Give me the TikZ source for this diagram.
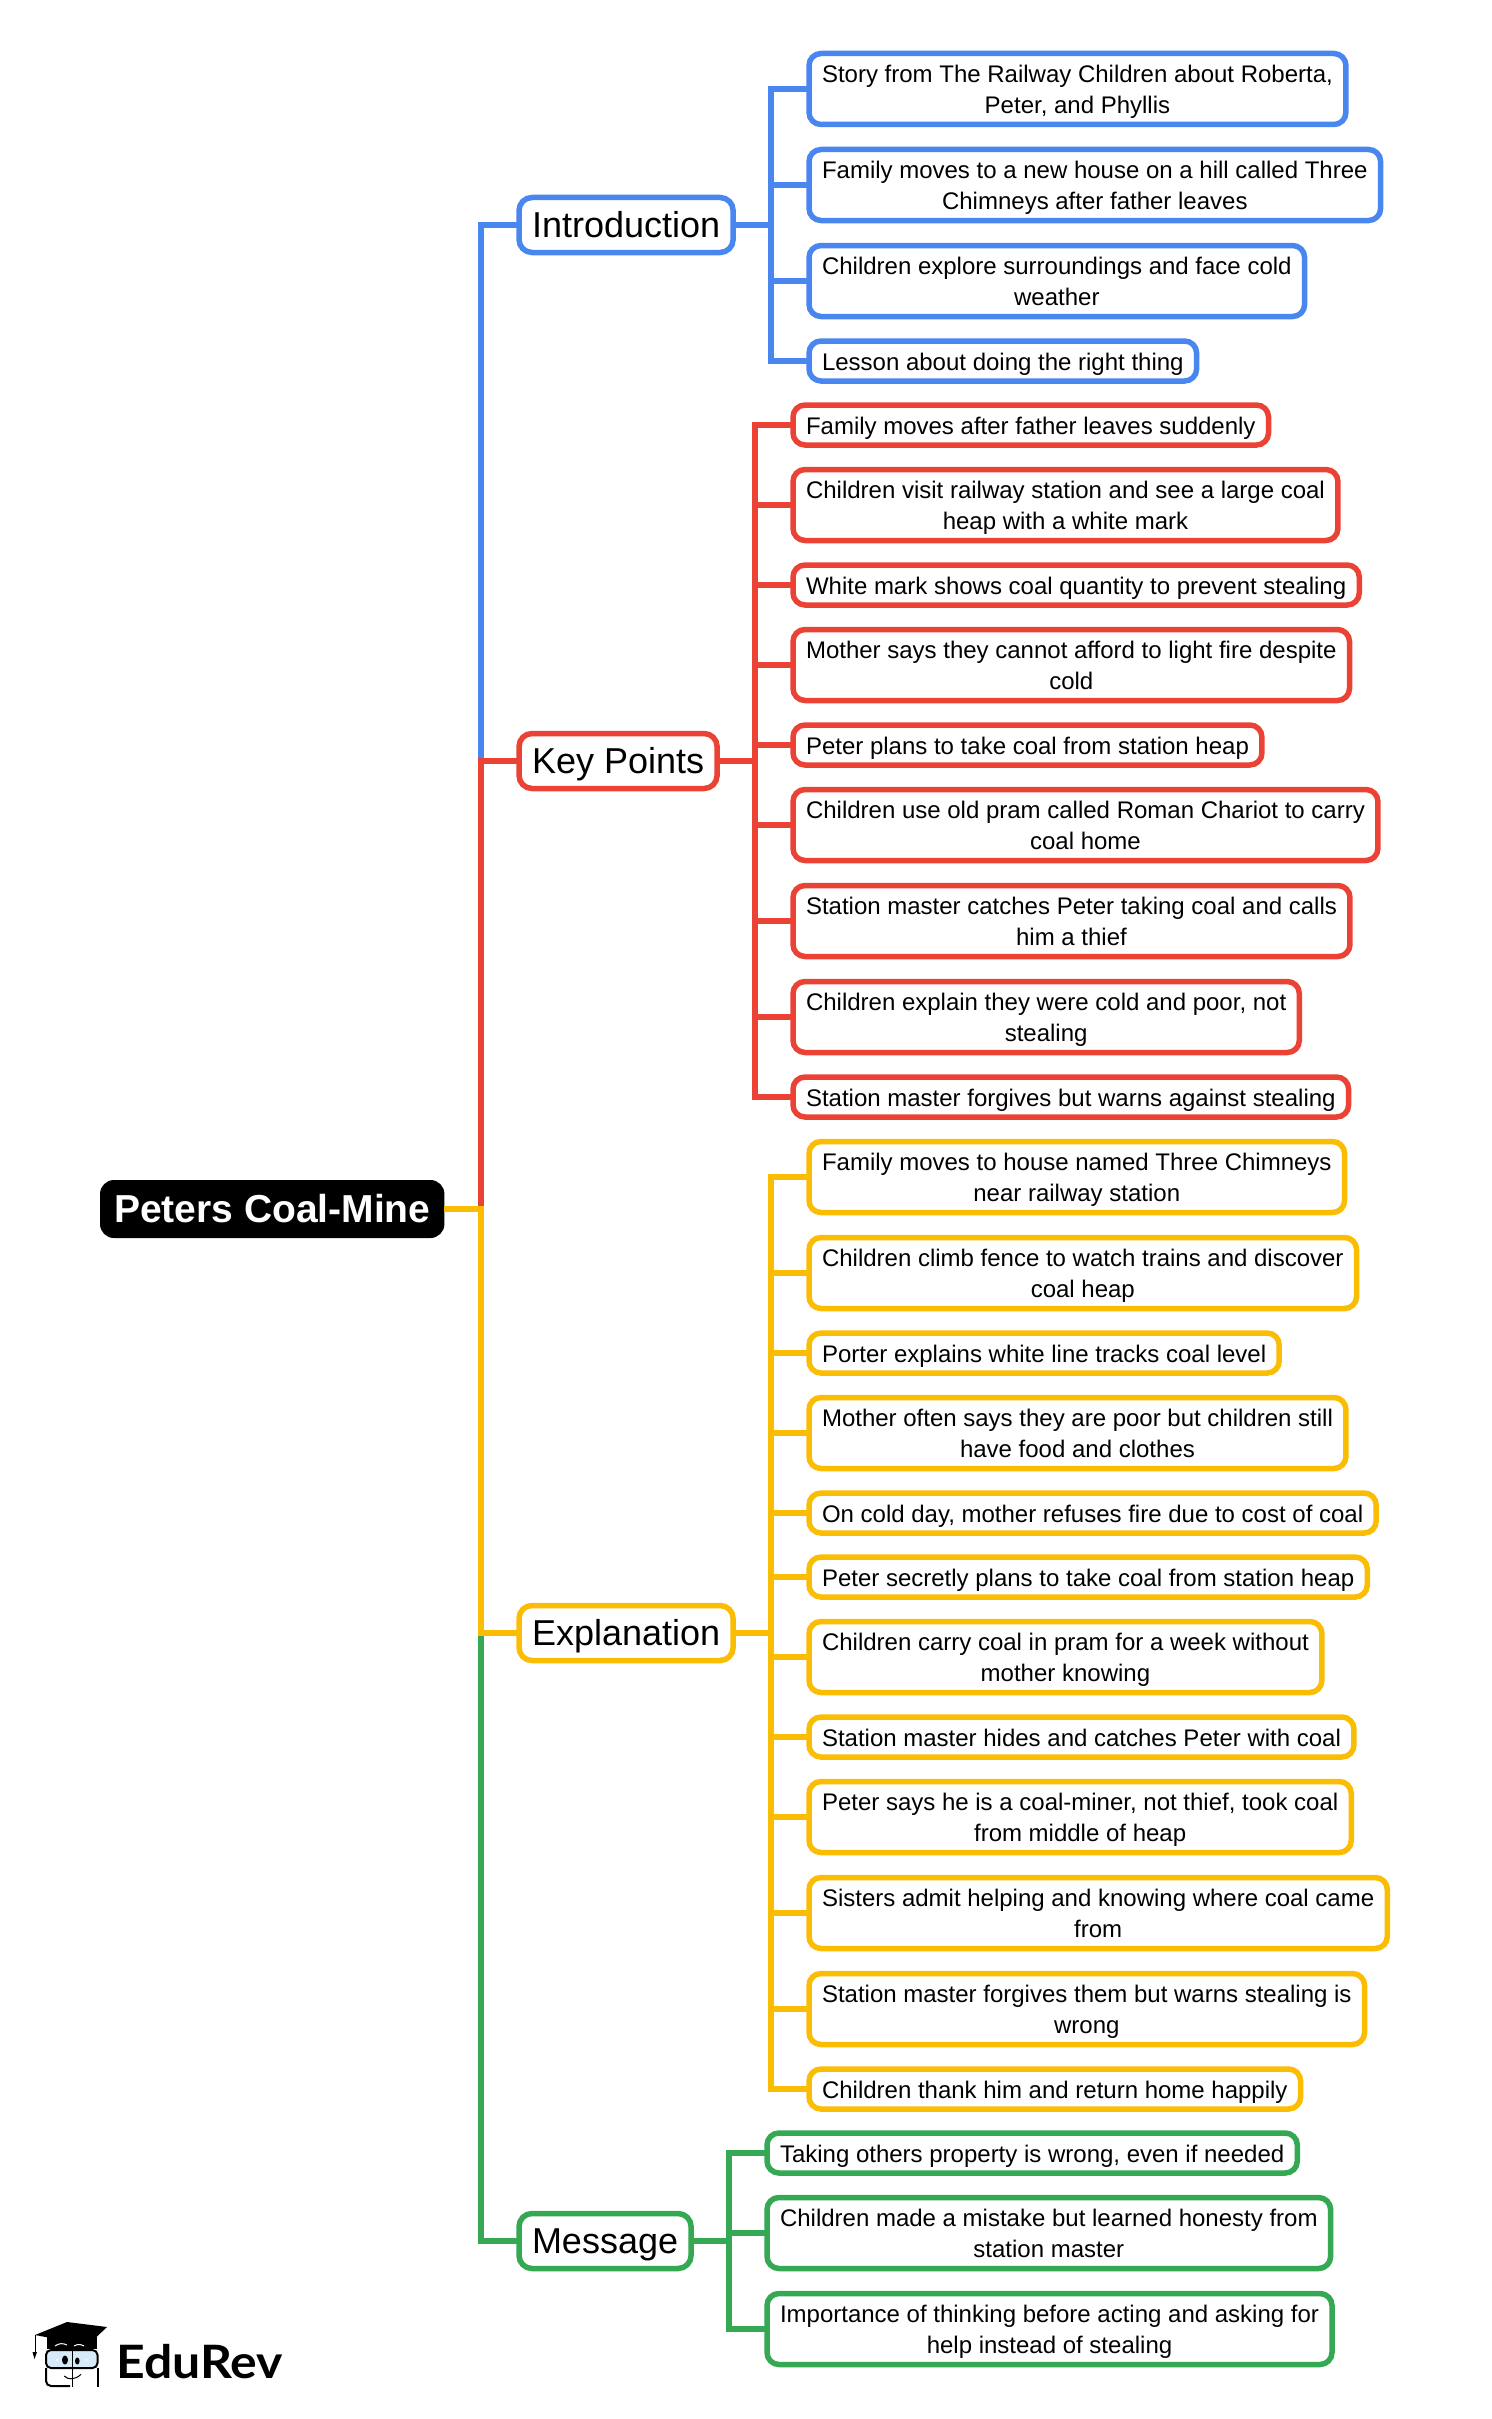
\documentclass[tikz,border=0pt]{standalone}
\usepackage{fontspec}
\setmainfont{Liberation Sans}
\newfontfamily\brandfont[FakeStretch=1.085]{Lato}
\newcommand{\linestrut}{\rule[-7.5pt]{0pt}{33pt}}

\definecolor{introblue}{HTML}{4A86F0}
\definecolor{keyred}{HTML}{EA4335}
\definecolor{explyellow}{HTML}{FBBC04}
\definecolor{msggreen}{HTML}{34A853}
\definecolor{glassblue}{HTML}{D6EAF8}

\tikzset{
  rootbox/.style={fill=black, text=white, anchor=west, rounded corners=14pt, outer sep=0pt,
    inner xsep=14pt, inner ysep=0pt, text height=42pt, text depth=16pt,
    font=\fontsize{39}{46}\selectfont\bfseries},
  topbox/.style={draw, fill=white, line width=5.5pt, anchor=west, rounded corners=13pt, outer sep=0pt,
    inner xsep=13pt, inner ysep=0pt, text height=39.5pt, text depth=15.5pt,
    font=\fontsize{36}{42}\selectfont},
  leafbox/.style={draw, fill=white, line width=5.5pt, anchor=west, rounded corners=12pt, outer sep=0pt,
    inner xsep=13pt, inner ysep=3.5pt, align=center,
    execute at end node=\linestrut,
    font=\fontsize{24}{31}\selectfont},
  branch/.style={line width=5.5pt}
}

\begin{document}
\begin{tikzpicture}[x=1pt, y=-1pt]
\useasboundingbox (0, 0) rectangle (1491, 2419);

\node[rootbox] (root) at (100, 1209) {Peters Coal-Mine};
\coordinate (trunk) at (481, 1209);

\node[topbox, draw=introblue] (intro) at (519, 225) {Introduction};
\node[topbox, draw=keyred] (key) at (519, 761) {Key Points};
\node[topbox, draw=explyellow] (expl) at (519, 1633) {Explanation};
\node[topbox, draw=msggreen] (msg) at (519, 2241) {Message};

\coordinate (introfork) at (771, 225);
\coordinate (keyfork) at (755, 761);
\coordinate (explfork) at (771, 1633);
\coordinate (msgfork) at (729, 2241);

\node[leafbox, draw=introblue] (i1) at (809, 89) {\linestrut Story from The Railway Children about Roberta,\\Peter, and Phyllis};
\node[leafbox, draw=introblue] (i2) at (809, 185) {\linestrut Family moves to a new house on a hill called Three\\Chimneys after father leaves};
\node[leafbox, draw=introblue] (i3) at (809, 281) {\linestrut Children explore surroundings and face cold\\weather};
\node[leafbox, draw=introblue] (i4) at (809, 361) {Lesson about doing the right thing};

\node[leafbox, draw=keyred] (k1) at (793, 425) {Family moves after father leaves suddenly};
\node[leafbox, draw=keyred] (k2) at (793, 505) {\linestrut Children visit railway station and see a large coal\\heap with a white mark};
\node[leafbox, draw=keyred] (k3) at (793, 585) {White mark shows coal quantity to prevent stealing};
\node[leafbox, draw=keyred] (k4) at (793, 665) {\linestrut Mother says they cannot afford to light fire despite\\cold};
\node[leafbox, draw=keyred] (k5) at (793, 745) {Peter plans to take coal from station heap};
\node[leafbox, draw=keyred] (k6) at (793, 825) {\linestrut Children use old pram called Roman Chariot to carry\\coal home};
\node[leafbox, draw=keyred] (k7) at (793, 921) {\linestrut Station master catches Peter taking coal and calls\\him a thief};
\node[leafbox, draw=keyred] (k8) at (793, 1017) {\linestrut Children explain they were cold and poor, not\\stealing};
\node[leafbox, draw=keyred] (k9) at (793, 1097) {Station master forgives but warns against stealing};

\node[leafbox, draw=explyellow] (e1) at (809, 1177) {\linestrut Family moves to house named Three Chimneys\\near railway station};
\node[leafbox, draw=explyellow] (e2) at (809, 1273) {\linestrut Children climb fence to watch trains and discover\\coal heap};
\node[leafbox, draw=explyellow] (e3) at (809, 1353) {Porter explains white line tracks coal level};
\node[leafbox, draw=explyellow] (e4) at (809, 1433) {\linestrut Mother often says they are poor but children still\\have food and clothes};
\node[leafbox, draw=explyellow] (e5) at (809, 1513) {On cold day, mother refuses fire due to cost of coal};
\node[leafbox, draw=explyellow] (e6) at (809, 1577) {Peter secretly plans to take coal from station heap};
\node[leafbox, draw=explyellow] (e7) at (809, 1657) {\linestrut Children carry coal in pram for a week without\\mother knowing};
\node[leafbox, draw=explyellow] (e8) at (809, 1737) {Station master hides and catches Peter with coal};
\node[leafbox, draw=explyellow] (e9) at (809, 1817) {\linestrut Peter says he is a coal-miner, not thief, took coal\\from middle of heap};
\node[leafbox, draw=explyellow] (e10) at (809, 1913) {\linestrut Sisters admit helping and knowing where coal came\\from};
\node[leafbox, draw=explyellow] (e11) at (809, 2009) {\linestrut Station master forgives them but warns stealing is\\wrong};
\node[leafbox, draw=explyellow] (e12) at (809, 2089) {Children thank him and return home happily};

\node[leafbox, draw=msggreen] (m1) at (767, 2153) {Taking others property is wrong, even if needed};
\node[leafbox, draw=msggreen] (m2) at (767, 2233) {\linestrut Children made a mistake but learned honesty from\\station master};
\node[leafbox, draw=msggreen] (m3) at (767, 2329) {\linestrut Importance of thinking before acting and asking for\\help instead of stealing};

\draw[branch, introblue] (trunk) |- (intro.west);
\draw[branch, msggreen] (trunk) |- (msg.west);
\draw[branch, keyred] (trunk) |- (key.west);
\draw[branch, explyellow] (root.east) -- (trunk) |- (expl.west);

\draw[branch, introblue] (intro.east) -- (introfork);
\draw[branch, introblue] (introfork) |- (i1.west);
\draw[branch, introblue] (introfork) |- (i2.west);
\draw[branch, introblue] (introfork) |- (i3.west);
\draw[branch, introblue] (introfork) |- (i4.west);

\draw[branch, keyred] (key.east) -- (keyfork);
\draw[branch, keyred] (keyfork) |- (k1.west);
\draw[branch, keyred] (keyfork) |- (k2.west);
\draw[branch, keyred] (keyfork) |- (k3.west);
\draw[branch, keyred] (keyfork) |- (k4.west);
\draw[branch, keyred] (keyfork) |- (k5.west);
\draw[branch, keyred] (keyfork) |- (k6.west);
\draw[branch, keyred] (keyfork) |- (k7.west);
\draw[branch, keyred] (keyfork) |- (k8.west);
\draw[branch, keyred] (keyfork) |- (k9.west);

\draw[branch, explyellow] (expl.east) -- (explfork);
\draw[branch, explyellow] (explfork) |- (e1.west);
\draw[branch, explyellow] (explfork) |- (e2.west);
\draw[branch, explyellow] (explfork) |- (e3.west);
\draw[branch, explyellow] (explfork) |- (e4.west);
\draw[branch, explyellow] (explfork) |- (e5.west);
\draw[branch, explyellow] (explfork) |- (e6.west);
\draw[branch, explyellow] (explfork) |- (e7.west);
\draw[branch, explyellow] (explfork) |- (e8.west);
\draw[branch, explyellow] (explfork) |- (e9.west);
\draw[branch, explyellow] (explfork) |- (e10.west);
\draw[branch, explyellow] (explfork) |- (e11.west);
\draw[branch, explyellow] (explfork) |- (e12.west);

\draw[branch, msggreen] (msg.east) -- (msgfork);
\draw[branch, msggreen] (msgfork) |- (m1.west);
\draw[branch, msggreen] (msgfork) |- (m2.west);
\draw[branch, msggreen] (msgfork) |- (m3.west);

% logo
\fill[black] (47, 2337) -- (47, 2349) -- (97, 2349) -- (97, 2337) -- cycle;
\draw[black, line width=1pt] (35, 2335) -- (35, 2352);
\fill[black] (32.5, 2352) -- (37, 2352) -- (34.5, 2359) -- cycle;
\fill[black] (35, 2335) -- (67, 2322) -- (107, 2327) -- (88, 2345) -- cycle;
\draw[white, line width=1pt] (55, 2346) .. controls (59, 2343) and (63, 2343) .. (67, 2345);
\draw[white, line width=1pt] (74, 2346) .. controls (77, 2344) and (81, 2344) .. (84, 2346);
\draw[black, line width=2pt, fill=glassblue, rounded corners=5pt] (46, 2350) rectangle (97.5, 2368);
\draw[black, line width=2pt, rounded corners=5pt] (46, 2368) -- (46, 2386) -- (70, 2386);
\draw[black, line width=2pt, rounded corners=5pt] (97.5, 2368) -- (97.5, 2387);
\draw[black, line width=1.5pt] (72.3, 2347) -- (72.3, 2387);
\fill[black] (65, 2360) ellipse (3pt and 4.5pt);
\fill[black] (77.3, 2361) ellipse (2.3pt and 3.5pt);
\fill[white] (57, 2360) circle (1.2pt);
\fill[white] (86, 2360) circle (1.2pt);
\draw[black, line width=1pt] (64.3, 2376) .. controls (68, 2380) and (75, 2380) .. (81, 2374.3);
\node[inner sep=0pt, anchor=base west, font=\fontsize{46}{50}\brandfont\bfseries] (brand) at (116, 2378) {EduRev};
\end{tikzpicture}
\end{document}
